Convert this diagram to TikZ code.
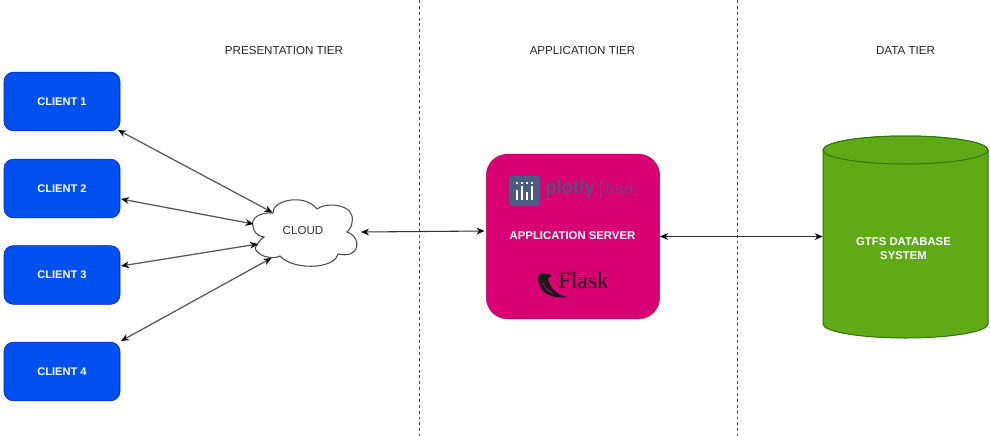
\documentclass[tikz,border=0pt]{standalone}
\usepackage{fontspec}
\setmainfont{Liberation Sans}
\newfontfamily\flaskfont{Liberation Serif}
\usetikzlibrary{arrows.meta}
\definecolor{cblue}{HTML}{0050EF}
\definecolor{cblueb}{HTML}{001DBC}
\definecolor{cpink}{HTML}{D80073}
\definecolor{cpinkb}{HTML}{A50040}
\definecolor{cgreen}{HTML}{60A917}
\definecolor{cgreenb}{HTML}{2D7600}
\definecolor{cslate}{HTML}{4A5A80}
\tikzset{
  x=0.75pt,y=-0.75pt,
  clientbox/.style={draw=cblueb,fill=cblue,rounded corners=7pt,minimum width=87pt,minimum height=44pt,inner sep=0pt,text=white,font=\fontsize{8.3}{10}\selectfont\bfseries},
  link/.style={draw=black!65,line width=0.95pt,{Stealth[length=6pt,width=5pt,black]}-{Stealth[length=6pt,width=5pt,black]}},
  linkdark/.style={draw=black!80,line width=0.8pt,{Stealth[length=6pt,width=5pt,black]}-{Stealth[length=6pt,width=5pt,black]}},
  tierline/.style={draw=black!70,line width=0.6pt,dash pattern=on 2.2pt off 2.2pt},
  tierlabel/.style={text=black!85,font=\fontsize{8.7}{10}\selectfont,inner sep=0pt},
  whitelabel/.style={text=white,font=\fontsize{8.5}{10.5}\selectfont\bfseries,inner sep=0pt,align=center}
}
\begin{document}
\begin{tikzpicture}
\useasboundingbox (0,0) rectangle (990,436);
\coordinate (t1a) at (419,0); \coordinate (t1b) at (419,436);
\coordinate (t2a) at (737,0); \coordinate (t2b) at (737,436);
\draw[tierline] (t1a) -- (t1b);
\draw[tierline] (t2a) -- (t2b);
\node[tierlabel] (h1) at (284,51) {PRESENTATION TIER};
\node[tierlabel] (h2) at (582.5,51) {APPLICATION TIER};
\node[tierlabel] (h3) at (905.5,51) {DATA TIER};
\node[clientbox] (c1) at (62,101.5) {CLIENT 1};
\node[clientbox] (c2) at (62,188.5) {CLIENT 2};
\node[clientbox] (c3) at (62,275) {CLIENT 3};
\node[clientbox] (c4) at (62,371.5) {CLIENT 4};
% cloud
\draw[draw=black!70,fill=white,line width=0.8pt]
 (253,227) .. controls (250,218) and (260,212) .. (273,213)
 .. controls (272,200) and (305,193) .. (317,209)
 .. controls (328,201) and (356,205) .. (352,222)
 .. controls (352,226) and (350,229) .. (347,232)
 .. controls (358,235) and (361,250) .. (350,254)
 .. controls (347,255) and (342,255) .. (338,254)
 .. controls (334,270) and (292,270) .. (280,256)
 .. controls (276,258) and (272,258) .. (268,257)
 .. controls (258,256) and (252,247) .. (257,245)
 .. controls (259,241) and (261,239) .. (264,237)
 .. controls (257,236) and (254,232) .. (253,227) -- cycle;
\node[font=\fontsize{8.7}{10}\selectfont,text=black!80,inner sep=0pt] (cloud) at (303,231) {CLOUD};
\coordinate (p1) at (272.5,212.5);
\coordinate (p2) at (253.5,224);
\coordinate (p3) at (258,244);
\coordinate (p4) at (271.5,258);
\coordinate (p5) at (361,232);
\coordinate (q1) at (118,130);
\coordinate (q2) at (121,199);
\coordinate (q3) at (121,266);
\coordinate (q4) at (121,341);
\coordinate (q5) at (484.5,231);
\draw[link] (q1) -- (p1);
\draw[link] (q2) -- (p2);
\draw[link] (q3) -- (p3);
\draw[link] (q4) -- (p4);
\draw[linkdark] (p5) -- (q5);
% server
\node[draw=cpinkb!60!cpink,fill=cpink,rounded corners=16pt,minimum width=130pt,minimum height=123.5pt,inner sep=0pt] (server) at (573,236.5) {};
\node[whitelabel] (serverlabel) at (572.5,236) {APPLICATION SERVER};
% plotly logo
\fill[cslate,rounded corners=2pt] (509,176) rectangle (540,206);
\foreach \x/\ya in {517/190,522/186,527/192,532/186}{
  \fill[white] (\x-1.2,\ya) rectangle (\x+1.2,199.5);
  \fill[white] (\x-1.2,181.5) rectangle (\x+1.2,184);
}
\node[anchor=west,inner sep=0pt,text=cslate!85!cpink,font=\fontsize{14}{16}\selectfont\bfseries] (plotly) at (545,189) {plotly};
\fill[cslate!85!cpink] (599.6,179) rectangle (600.6,199);
\node[anchor=west,inner sep=0pt,text=cslate!70!cpink,font=\fontsize{10.5}{12}\selectfont] (dash) at (605,189) {Dash};
% flask logo
\node[anchor=west,inner sep=0pt,text=black!90,font=\flaskfont\fontsize{17.5}{20}\selectfont] (flask) at (558,281) {Flask};
\fill[black!90] (541,273) .. controls (537,276) and (537,280) .. (539,283)
  .. controls (541,293) and (551,299) .. (568,297)
  .. controls (558,296) and (550,289) .. (548,278)
  .. controls (551,277) and (553,275) .. (549,274) -- cycle;
\fill[cpink] (542,280) .. controls (544,287) and (549,291) .. (554,294)
  .. controls (548,292) and (543,287) .. (542,280) -- cycle;
% database
\path[draw=cgreenb,fill=cgreen,line width=0.75pt]
  (823,150) arc[start angle=180,end angle=360,x radius=82.5,y radius=14]
  -- (988,324) arc[start angle=0,end angle=180,x radius=82.5,y radius=14] -- cycle;
\path[draw=cgreenb,fill=cgreen,line width=0.75pt] (905.5,150) ellipse[x radius=82.5,y radius=14];
\node[minimum width=123.75pt,minimum height=151pt,inner sep=0pt] (db) at (905.5,236.5) {};
\node[whitelabel] (dblabel) at (903.5,249) {GTFS DATABASE\\SYSTEM};
\draw[linkdark] (server.east) -- (db.west);
\end{tikzpicture}
\end{document}
